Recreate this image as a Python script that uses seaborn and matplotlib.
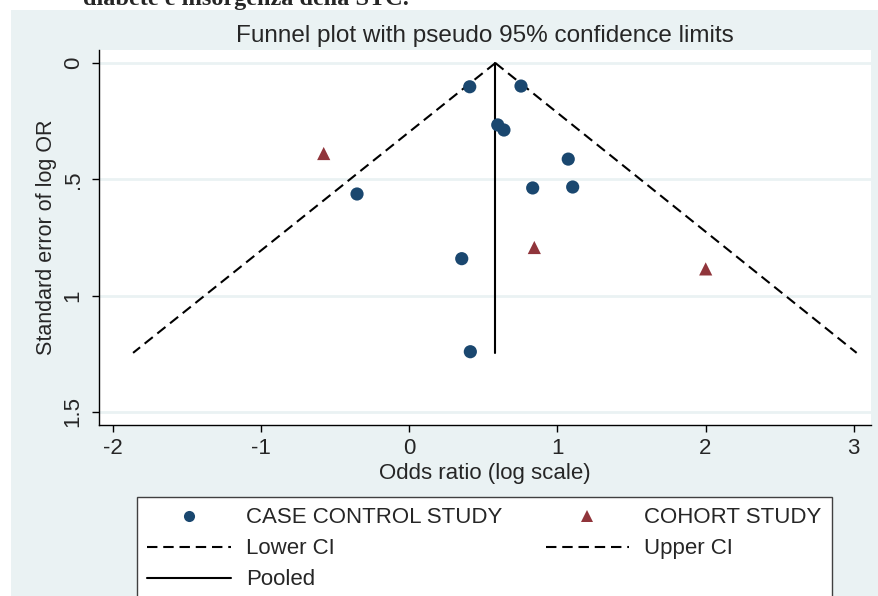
import matplotlib
matplotlib.use("Agg")
import matplotlib.pyplot as plt
import matplotlib.patches as mpatches
from matplotlib.lines import Line2D
import numpy as np
import pandas as pd
import seaborn as sns

# values
case_lnor = [0.408, 0.754, 0.597, 0.639, 1.073, 0.833, 1.103, -0.353, 0.354, 0.412]
case_se = [0.102, 0.099, 0.266, 0.288, 0.413, 0.537, 0.533, 0.563, 0.841, 1.241]
cohort_lnor = [-0.578, 0.844, 2.001]
cohort_se = [0.389, 0.793, 0.885]

pooled_x = [0.581, 0.581]
pooled_se = [0.0, 1.246]
lower_ci_x = [0.581, -1.865]
upper_ci_x = [0.581, 3.02]
ci_se = [0.0, 1.246]

xticks = [-2, -1, 0, 1, 2, 3]
yticks = [0, 0.5, 1, 1.5]
ytick_labels = ["0", ".5", "1", "1.5"]

navy = "#1a476f"
maroon = "#90353b"
panel = "#eaf2f3"

pts = pd.DataFrame({
    "lnor": case_lnor + cohort_lnor,
    "se": case_se + cohort_se,
    "design": ["CASE CONTROL STUDY"] * len(case_lnor) + ["COHORT STUDY"] * len(cohort_lnor),
})

sns.set_style("ticks")
plt.rcParams["font.family"] = ["Liberation Sans", "DejaVu Sans"]

fig = plt.figure(figsize=(8.79, 5.96), dpi=100)
fig.patch.set_facecolor("white")
# Stata-like grey-blue graph region
fig.patches.append(mpatches.Rectangle((11 / 879, 0), 1 - 11 / 879, 1 - 10 / 596,
                                      transform=fig.transFigure, facecolor=panel,
                                      edgecolor="none", zorder=-10))
fig.text(83 / 879, 1 - 5 / 596, "diabete e insorgenza della STC.", family="Liberation Serif",
         weight="bold", fontsize=17.5, va="baseline", ha="left")

ax = fig.add_axes([99 / 879, 1 - 425 / 596, (871 - 99) / 879, (425 - 50) / 596])
ax.set_facecolor("white")

for y in yticks:
    ax.axhline(y, color=panel, lw=2, zorder=0)

sns.lineplot(x=lower_ci_x, y=ci_se, ax=ax, color="black", lw=1.5, sort=False,
             linestyle=(0, (5, 2.8)), estimator=None)
sns.lineplot(x=upper_ci_x, y=ci_se, ax=ax, color="black", lw=1.5, sort=False,
             linestyle=(0, (5, 2.8)), estimator=None)
sns.lineplot(x=pooled_x, y=pooled_se, ax=ax, color="black", lw=1.5, sort=False, estimator=None)

sns.scatterplot(data=pts, x="lnor", y="se", hue="design", style="design",
                palette={"CASE CONTROL STUDY": navy, "COHORT STUDY": maroon},
                markers={"CASE CONTROL STUDY": "o", "COHORT STUDY": "^"},
                s=90, linewidth=0, legend=False, ax=ax, zorder=5)

ax.set_xlim(-2.095, 3.117)
ax.set_ylim(1.556, -0.056)
ax.set_xticks(xticks)
ax.set_xticklabels([str(t) for t in xticks])
ax.set_yticks(yticks)
ax.set_yticklabels(ytick_labels, rotation=90, va="center")
ax.tick_params(axis="both", direction="out", length=5, width=1, color="black",
               labelsize=16, pad=4)
ax.tick_params(axis="y", pad=6)
for s in ["top", "right"]:
    ax.spines[s].set_visible(False)
for s in ["left", "bottom"]:
    ax.spines[s].set_color("black")
    ax.spines[s].set_linewidth(1)

ax.set_xlabel("Odds ratio (log scale)", fontsize=16, labelpad=3)
ax.set_ylabel("Standard error of log OR", fontsize=15.5, labelpad=4)
ax.set_title("Funnel plot with pseudo 95% confidence limits", fontsize=17.5, pad=6)

dash = (0, (5, 2.8))
handles = [
    Line2D([], [], ls="none", marker="o", color=navy, markersize=8, markeredgewidth=0),
    Line2D([], [], color="black", lw=1.5, linestyle=dash),
    Line2D([], [], color="black", lw=1.5),
    Line2D([], [], ls="none", marker="^", color=maroon, markersize=9, markeredgewidth=0),
    Line2D([], [], color="black", lw=1.5, linestyle=dash),
]
labels = ["CASE CONTROL STUDY", "Lower CI", "Pooled", "COHORT STUDY", "Upper CI"]
leg = fig.legend(handles, labels, ncol=2, loc="upper left", mode="expand",
                 bbox_to_anchor=(137 / 879, 1 - 497 / 596 - 0.01, (832 - 137) / 879, 0.01),
                 fontsize=16, frameon=True, fancybox=False, framealpha=1,
                 handlelength=3.75, handletextpad=0.68, labelspacing=0.45,
                 borderpad=0.47, borderaxespad=0)
leg.get_frame().set_edgecolor("#404040")
leg.get_frame().set_linewidth(1)
leg.get_frame().set_facecolor("white")

fig.savefig("out.png", dpi=100)
